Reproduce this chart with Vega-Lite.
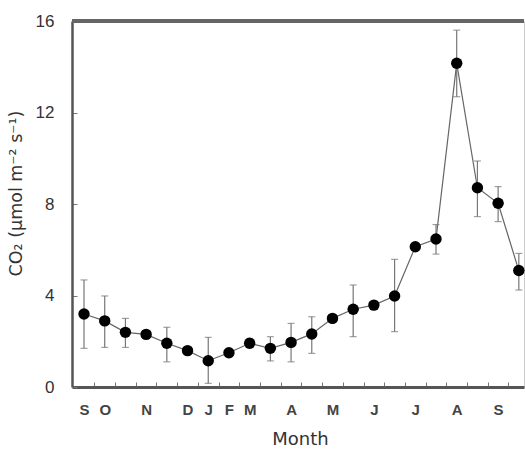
{
  "$schema": "https://vega.github.io/schema/vega-lite/v6.json",
  "width": 452,
  "height": 366,
  "autosize": {"type": "none"},
  "padding": {"left": 72, "top": 21, "right": 1, "bottom": 63},
  "background": "white",
  "view": {"stroke": "#cccccc", "strokeWidth": 1},
  "config": {
    "font": "Liberation Sans",
    "axis": {"grid": false}
  },
  "data": {
    "values": [
      {"idx": 0, "co2": 3.19, "lo": 1.69, "hi": 4.68},
      {"idx": 1, "co2": 2.89, "lo": 1.73, "hi": 3.98},
      {"idx": 2, "co2": 2.39, "lo": 1.73, "hi": 3.0},
      {"idx": 3, "co2": 2.30, "lo": 2.15, "hi": 2.45},
      {"idx": 4, "co2": 1.91, "lo": 1.10, "hi": 2.61},
      {"idx": 5, "co2": 1.59, "lo": 1.45, "hi": 1.73},
      {"idx": 6, "co2": 1.15, "lo": 0.16, "hi": 2.17},
      {"idx": 7, "co2": 1.50, "lo": 1.38, "hi": 1.62},
      {"idx": 8, "co2": 1.91, "lo": 1.72, "hi": 2.12},
      {"idx": 9, "co2": 1.69, "lo": 1.14, "hi": 2.20},
      {"idx": 10, "co2": 1.95, "lo": 1.10, "hi": 2.78},
      {"idx": 11, "co2": 2.32, "lo": 1.47, "hi": 3.07},
      {"idx": 12, "co2": 3.00, "lo": 2.85, "hi": 3.15},
      {"idx": 13, "co2": 3.40, "lo": 2.20, "hi": 4.46},
      {"idx": 14, "co2": 3.58, "lo": 3.45, "hi": 3.72},
      {"idx": 15, "co2": 3.98, "lo": 2.42, "hi": 5.58},
      {"idx": 16, "co2": 6.13, "lo": 6.0, "hi": 6.25},
      {"idx": 17, "co2": 6.47, "lo": 5.81, "hi": 7.1},
      {"idx": 18, "co2": 14.15, "lo": 12.69, "hi": 15.6},
      {"idx": 19, "co2": 8.71, "lo": 7.45, "hi": 9.88},
      {"idx": 20, "co2": 8.03, "lo": 7.23, "hi": 8.76},
      {"idx": 21, "co2": 5.09, "lo": 4.24, "hi": 5.84}
    ]
  },
  "encoding": {
    "x": {
      "field": "idx",
      "type": "quantitative",
      "scale": {"domain": [-0.58, 21.25], "nice": false, "zero": false},
      "axis": {
        "title": "Month",
        "titleFont": "DejaVu Sans",
        "titleFontSize": 18,
        "titleFontWeight": "normal",
        "titleColor": "#333333",
        "titleX": 228,
        "titleY": 52,
        "titleBaseline": "middle",
        "titleAlign": "center",
        "values": [0, 0.5, 1, 1.5, 2.5, 3, 3.5, 4.5, 5, 5.5, 6, 6.5, 7, 7.5, 8, 8.5, 9.5, 10, 10.5, 11.5, 12, 12.5, 13.5, 14, 14.5, 15.5, 16, 16.5, 17.5, 18, 18.5, 19.5, 20, 20.5],
        "labelExpr": "datum.value % 1 ? '' : ['S','O','','N','','D','J','F','M','','A','','M','','J','','J','','A','','S',''][datum.value]",
        "labelFontSize": 15,
        "labelFontWeight": "bold",
        "labelColor": "#444444",
        "labelPadding": 20,
        "labelFlush": false,
        "labelOverlap": false,
        "tickSize": -5,
        "tickColor": "#777777",
        "tickWidth": 1,
        "tickOpacity": {"condition": {"test": "datum.value % 1 == 0", "value": 0}, "value": 1},
        "domainColor": "#555555",
        "domainWidth": 3
      }
    },
    "y": {
      "type": "quantitative",
      "scale": {"domain": [0, 16], "nice": false},
      "axis": {
        "title": "CO₂ (µmol m⁻² s⁻¹)",
        "titleFont": "DejaVu Sans",
        "titleFontSize": 17.5,
        "titleFontWeight": "normal",
        "titleColor": "#333333",
        "titleAngle": -90,
        "titleX": -56,
        "titleY": 172,
        "titleAlign": "center",
        "titleBaseline": "middle",
        "values": [0, 4, 8, 12, 16],
        "labelFontSize": 17,
        "labelColor": "#333333",
        "labelPadding": 23,
        "tickSize": -5,
        "tickColor": "#777777",
        "tickWidth": 1,
        "domainColor": "#555555",
        "domainWidth": 2.5
      }
    }
  },
  "layer": [
    {
      "mark": {"type": "rule", "color": "#666666", "strokeWidth": 4},
      "encoding": {"y": {"datum": 16}, "x": null}
    },
    {
      "mark": {"type": "line", "color": "#666666", "strokeWidth": 1.2},
      "encoding": {"y": {"field": "co2"}}
    },
    {
      "mark": {"type": "errorbar", "color": "#777777", "thickness": 1.2, "ticks": {"size": 7, "color": "#777777", "thickness": 1.2}},
      "encoding": {"y": {"field": "lo", "type": "quantitative"}, "y2": {"field": "hi"}}
    },
    {
      "mark": {"type": "circle", "color": "#000000", "opacity": 1, "size": 130},
      "encoding": {"y": {"field": "co2"}}
    }
  ]
}
